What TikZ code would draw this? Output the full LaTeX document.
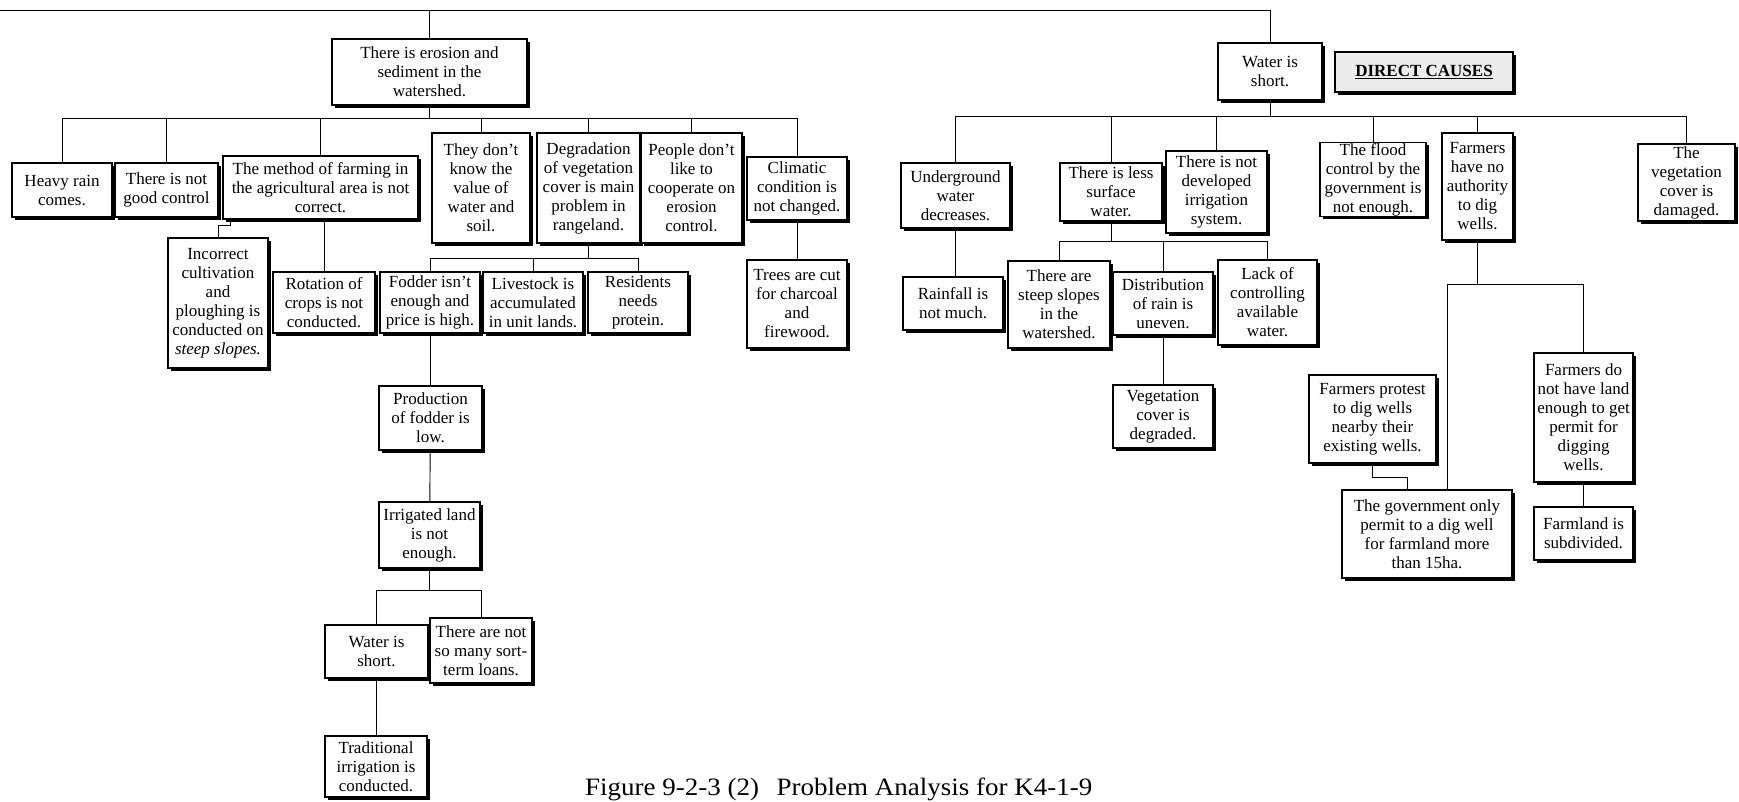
\documentclass[tikz,border=0pt]{standalone}
\usepackage{fontspec}
\setmainfont{Liberation Serif}
\newfontfamily\capfont[FakeStretch=1.08]{Liberation Serif}
\usepackage{tikz}
\usetikzlibrary{shadows}

\begin{document}
\begin{tikzpicture}[x=1pt,y=-1pt,
	cause/.style={draw,rectangle,line width=1.1pt,fill=white,align=center,inner sep=1pt,
		font=\fontsize{17pt}{19pt}\selectfont,
		drop shadow={shadow xshift=2.5pt,shadow yshift=-2.5pt,opacity=1,fill=black}},
	sz/.style 2 args={minimum width=#1pt,minimum height=#2pt},
	link/.style={line width=0.9pt}]
				\useasboundingbox (0,0) rectangle (1739,801);
				\coordinate (edge) at (0,10);

				% erosion side
				\node[cause,sz={195}{66}] (erosion) at (429.5,72) {There is erosion and\\sediment in the\\watershed.};
				\node[cause,sz={100}{54}] (heavy) at (62,190) {Heavy rain\\comes.};
				\node[cause,sz={103}{54}] (notgood) at (166.5,190) {There is not\\good control};
				\node[cause,sz={195}{63}] (method) at (320.5,187.5) {The method of farming in\\the agricultural area is not\\correct.};
				\node[cause,sz={98}{110}] (dontknow) at (481,188) {They don't\\know the\\value of\\water and\\soil.};
				\node[cause,sz={103}{110}] (degrad) at (588.5,188) {Degradation\\of vegetation\\cover is main\\problem in\\rangeland.};
				\node[cause,sz={101}{110}] (people) at (691.5,188) {People don't\\like to\\cooperate on\\erosion\\control.};
				\node[cause,sz={100}{63}] (climatic) at (797,188.5) {Climatic\\condition is\\not changed.};

				\node[cause,sz={100}{130}] (incorrect) at (218,303) {Incorrect\\cultivation\\and\\ploughing is\\conducted on\\\textit{steep slopes.}};
				\node[cause,sz={102}{61}] (rotation) at (324,302.5) {Rotation of\\crops is not\\conducted.};
				\node[cause,sz={100}{61}] (fodder) at (430,302.5) {Fodder isn't\\enough and\\price is high.};
				\node[cause,sz={100}{61}] (livestock) at (533,302.5) {Livestock is\\accumulated\\in unit lands.};
				\node[cause,sz={100}{61}] (residents) at (638,302.5) {Residents\\needs\\protein.};
				\node[cause,sz={100}{88}] (trees) at (797,304) {Trees are cut\\for charcoal\\and\\firewood.};

				\node[cause,sz={103}{64}] (production) at (430.5,418) {Production\\of fodder is\\low.};
				\node[cause,sz={101}{66}] (irrigated) at (429.5,535) {Irrigated land\\is not\\enough.};
				\node[cause,sz={103}{53}] (water2) at (376.5,651.5) {Water is\\short.};
				\node[cause,sz={102}{65}] (sortterm) at (481,650.5) {There are not\\so many sort-\\term loans.};
				\node[cause,sz={102}{61}] (traditional) at (376,766.5) {Traditional\\irrigation is\\conducted.};

				% water side
				\node[cause,sz={104}{57}] (water) at (1270,71.5) {Water is\\short.};
				\node[cause,sz={178}{40},fill=gray!15] (direct) at (1424,72) {\textbf{\underline{DIRECT CAUSES}}};
				\node[cause,sz={109}{65}] (under) at (955.5,195.5) {Underground\\water\\decreases.};
				\node[cause,sz={102}{58}] (less) at (1111,192) {There is less\\surface\\water.};
				\node[cause,sz={101}{82}] (notdev) at (1216.5,192) {There is not\\developed\\irrigation\\system.};
				\node[cause,sz={106}{71}] (flood) at (1373,179.5) {The flood\\control by the\\government is\\not enough.};
				\node[cause,sz={71}{107}] (noauth) at (1477.5,186.5) {Farmers\\have no\\authority\\to dig\\wells.};
				\node[cause,sz={97}{77}] (vegdam) at (1686.5,182.5) {The\\vegetation\\cover is\\damaged.};

				\node[cause,sz={100}{53}] (rainfall) at (953,303.5) {Rainfall is\\not much.};
				\node[cause,sz={102}{87}] (steep) at (1059,304.5) {There are\\steep slopes\\in the\\watershed.};
				\node[cause,sz={100}{63}] (distrib) at (1163,303.5) {Distribution\\of rain is\\uneven.};
				\node[cause,sz={99}{85}] (lack) at (1267.5,302.5) {Lack of\\controlling\\available\\water.};
				\node[cause,sz={100}{63}] (vegdeg) at (1163,416.5) {Vegetation\\cover is\\degraded.};

				\node[cause,sz={127}{88}] (protest) at (1372.5,419) {Farmers protest\\to dig wells\\nearby their\\existing wells.};
				\node[cause,sz={170}{88}] (govt) at (1427,534) {The government only\\permit to a dig well\\for farmland more\\than 15ha.};
				\node[cause,sz={99}{129}] (noland) at (1583.5,417.5) {Farmers do\\not have land\\enough to get\\permit for\\digging\\wells.};
				\node[cause,sz={99}{53}] (farmland) at (1583.5,533.5) {Farmland is\\subdivided.};

				\node[anchor=base west,inner sep=0pt,font=\capfont\fontsize{25pt}{28pt}\selectfont] (caption) at (585,795) {Figure 9-2-3 (2)\hspace{0.7em}Problem Analysis for K4-1-9};

				% connectors
				\draw[link] (edge) -| (water.north);
				\draw[link] (erosion.north) -- (erosion.north |- edge);
				\foreach \c in {heavy,notgood,method,dontknow,degrad,people,climatic}
					\draw[link] (erosion.south) -- ++(0,13) -| (\c.north);
				\foreach \c in {under,less,notdev,flood,noauth,vegdam}
					\draw[link] (water.south) -- ++(0,16) -| (\c.north);
				\foreach \c in {fodder,livestock,residents}
					\draw[link] (degrad.south) -- ++(0,15) -| (\c.north);
				\foreach \c in {steep,distrib,lack}
					\draw[link] (less.south) -- ++(0,20) -| (\c.north);
				\foreach \c in {water2,sortterm}
					\draw[link] (irrigated.south) -- ++(0,22) -| (\c.north);
				\draw[link]
				(incorrect.north) -- ++(0,-12) -| ([xshift=8pt]method.south west)
				(rotation.north) -- (rotation.north |- method.south)
				(climatic.south) -- (climatic.south |- trees.north)
				(fodder.south) -- (fodder.south |- production.north)
				(production) edge (irrigated)
				(water2.south) -- (water2.south |- traditional.north)
				(under.south) -- (under.south |- rainfall.north)
				(distrib) edge (vegdeg)
				(noland) edge (farmland)
				(protest.south) -- ++(0,14) -| ([xshift=-20pt]govt.north)
				(noauth.south) -- ++(0,44) coordinate (nbus) -| ([xshift=20pt]govt.north)
				(nbus) -| (noland.north);
			\end{tikzpicture}
\end{document}
